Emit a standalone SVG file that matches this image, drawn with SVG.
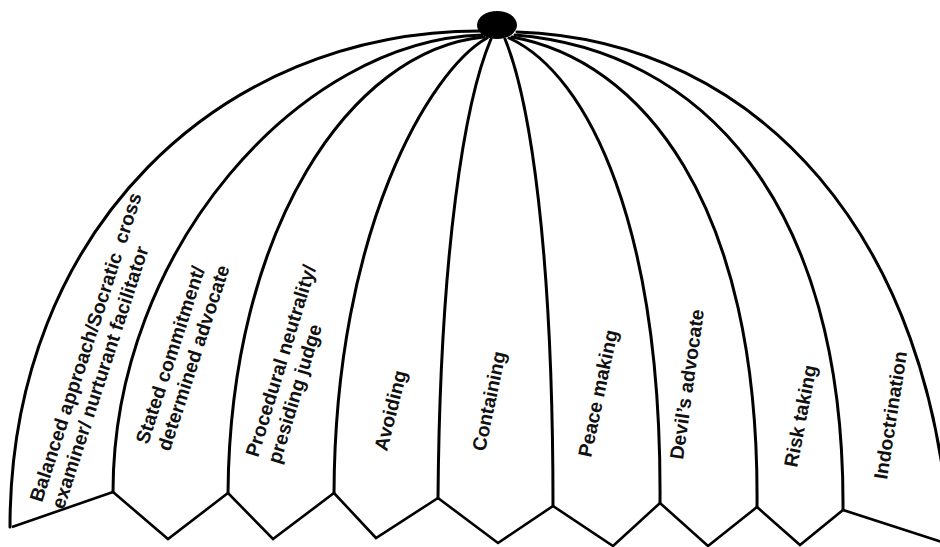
<svg xmlns="http://www.w3.org/2000/svg" width="940" height="547" viewBox="0 0 940 547">
<style>
.rib{fill:none;stroke:#000;stroke-width:3;stroke-linecap:round}
.base{fill:none;stroke:#000;stroke-width:2.6;stroke-linejoin:miter}
.lbl{font-family:"Liberation Sans",Arial,sans-serif;font-weight:bold;font-size:19.4px;fill:#111;white-space:pre}
</style>
<rect width="940" height="547" fill="#fff"/>
<g id="connectors">
<path class="rib" d="M480,31 C220,31 10,230 10,527"/>
<path class="rib" d="M482,35 C300,40 113,250 113,492"/>
<path class="rib" d="M484,37 C350,50 230,230 228,493"/>
<path class="rib" d="M487,38 C430,70 335,230 334,493"/>
<path class="rib" d="M491,39 C465,100 440,250 438,498"/>
<path class="rib" d="M505,39 C530,100 553,250 553,506"/>
<path class="rib" d="M509,38 C590,75 662,230 660,503"/>
<path class="rib" d="M512,37 C640,60 760,200 757,507"/>
<path class="rib" d="M515,35 C700,50 845,200 843,510"/>
<path class="rib" d="M517,32 C760,40 935,240 950,547"/>
<polyline class="base" points="12,527 113,492 168,539 228,493 273,539 334,493 376,538 438,498 498,543 553,506 613,546 660,503 708,546 757,507 800,545 843,510 945,543"/>
</g>
<g id="knob"><ellipse cx="497" cy="25" rx="20" ry="14" fill="#000"/></g>
<g id="balanced"><text class="lbl" transform="translate(42,503) rotate(-72)" xml:space="preserve"><tspan x="0" y="0">Balanced approach/Socratic  cross</tspan><tspan x="0" y="23">examiner/ nurturant facilitator</tspan></text></g>
<g id="stated"><text class="lbl" transform="translate(148,445) rotate(-72)"><tspan x="0" y="0">Stated commitment/</tspan><tspan x="0" y="23">determined advocate</tspan></text></g>
<g id="procedural"><text class="lbl" transform="translate(258,458) rotate(-73)"><tspan x="0" y="0">Procedural neutrality/</tspan><tspan x="0" y="23">presiding judge</tspan></text></g>
<g id="avoiding"><text class="lbl" transform="translate(387,452) rotate(-76)">Avoiding</text></g>
<g id="containing"><text class="lbl" transform="translate(485,452) rotate(-78)">Containing</text></g>
<g id="peace"><text class="lbl" transform="translate(591,458) rotate(-78)">Peace making</text></g>
<g id="devil"><text class="lbl" transform="translate(683,460) rotate(-82)">Devil’s advocate</text></g>
<g id="risk"><text class="lbl" transform="translate(797,468) rotate(-79)">Risk taking</text></g>
<g id="indoctrination"><text class="lbl" transform="translate(887,480) rotate(-81)">Indoctrination</text></g>
</svg>
